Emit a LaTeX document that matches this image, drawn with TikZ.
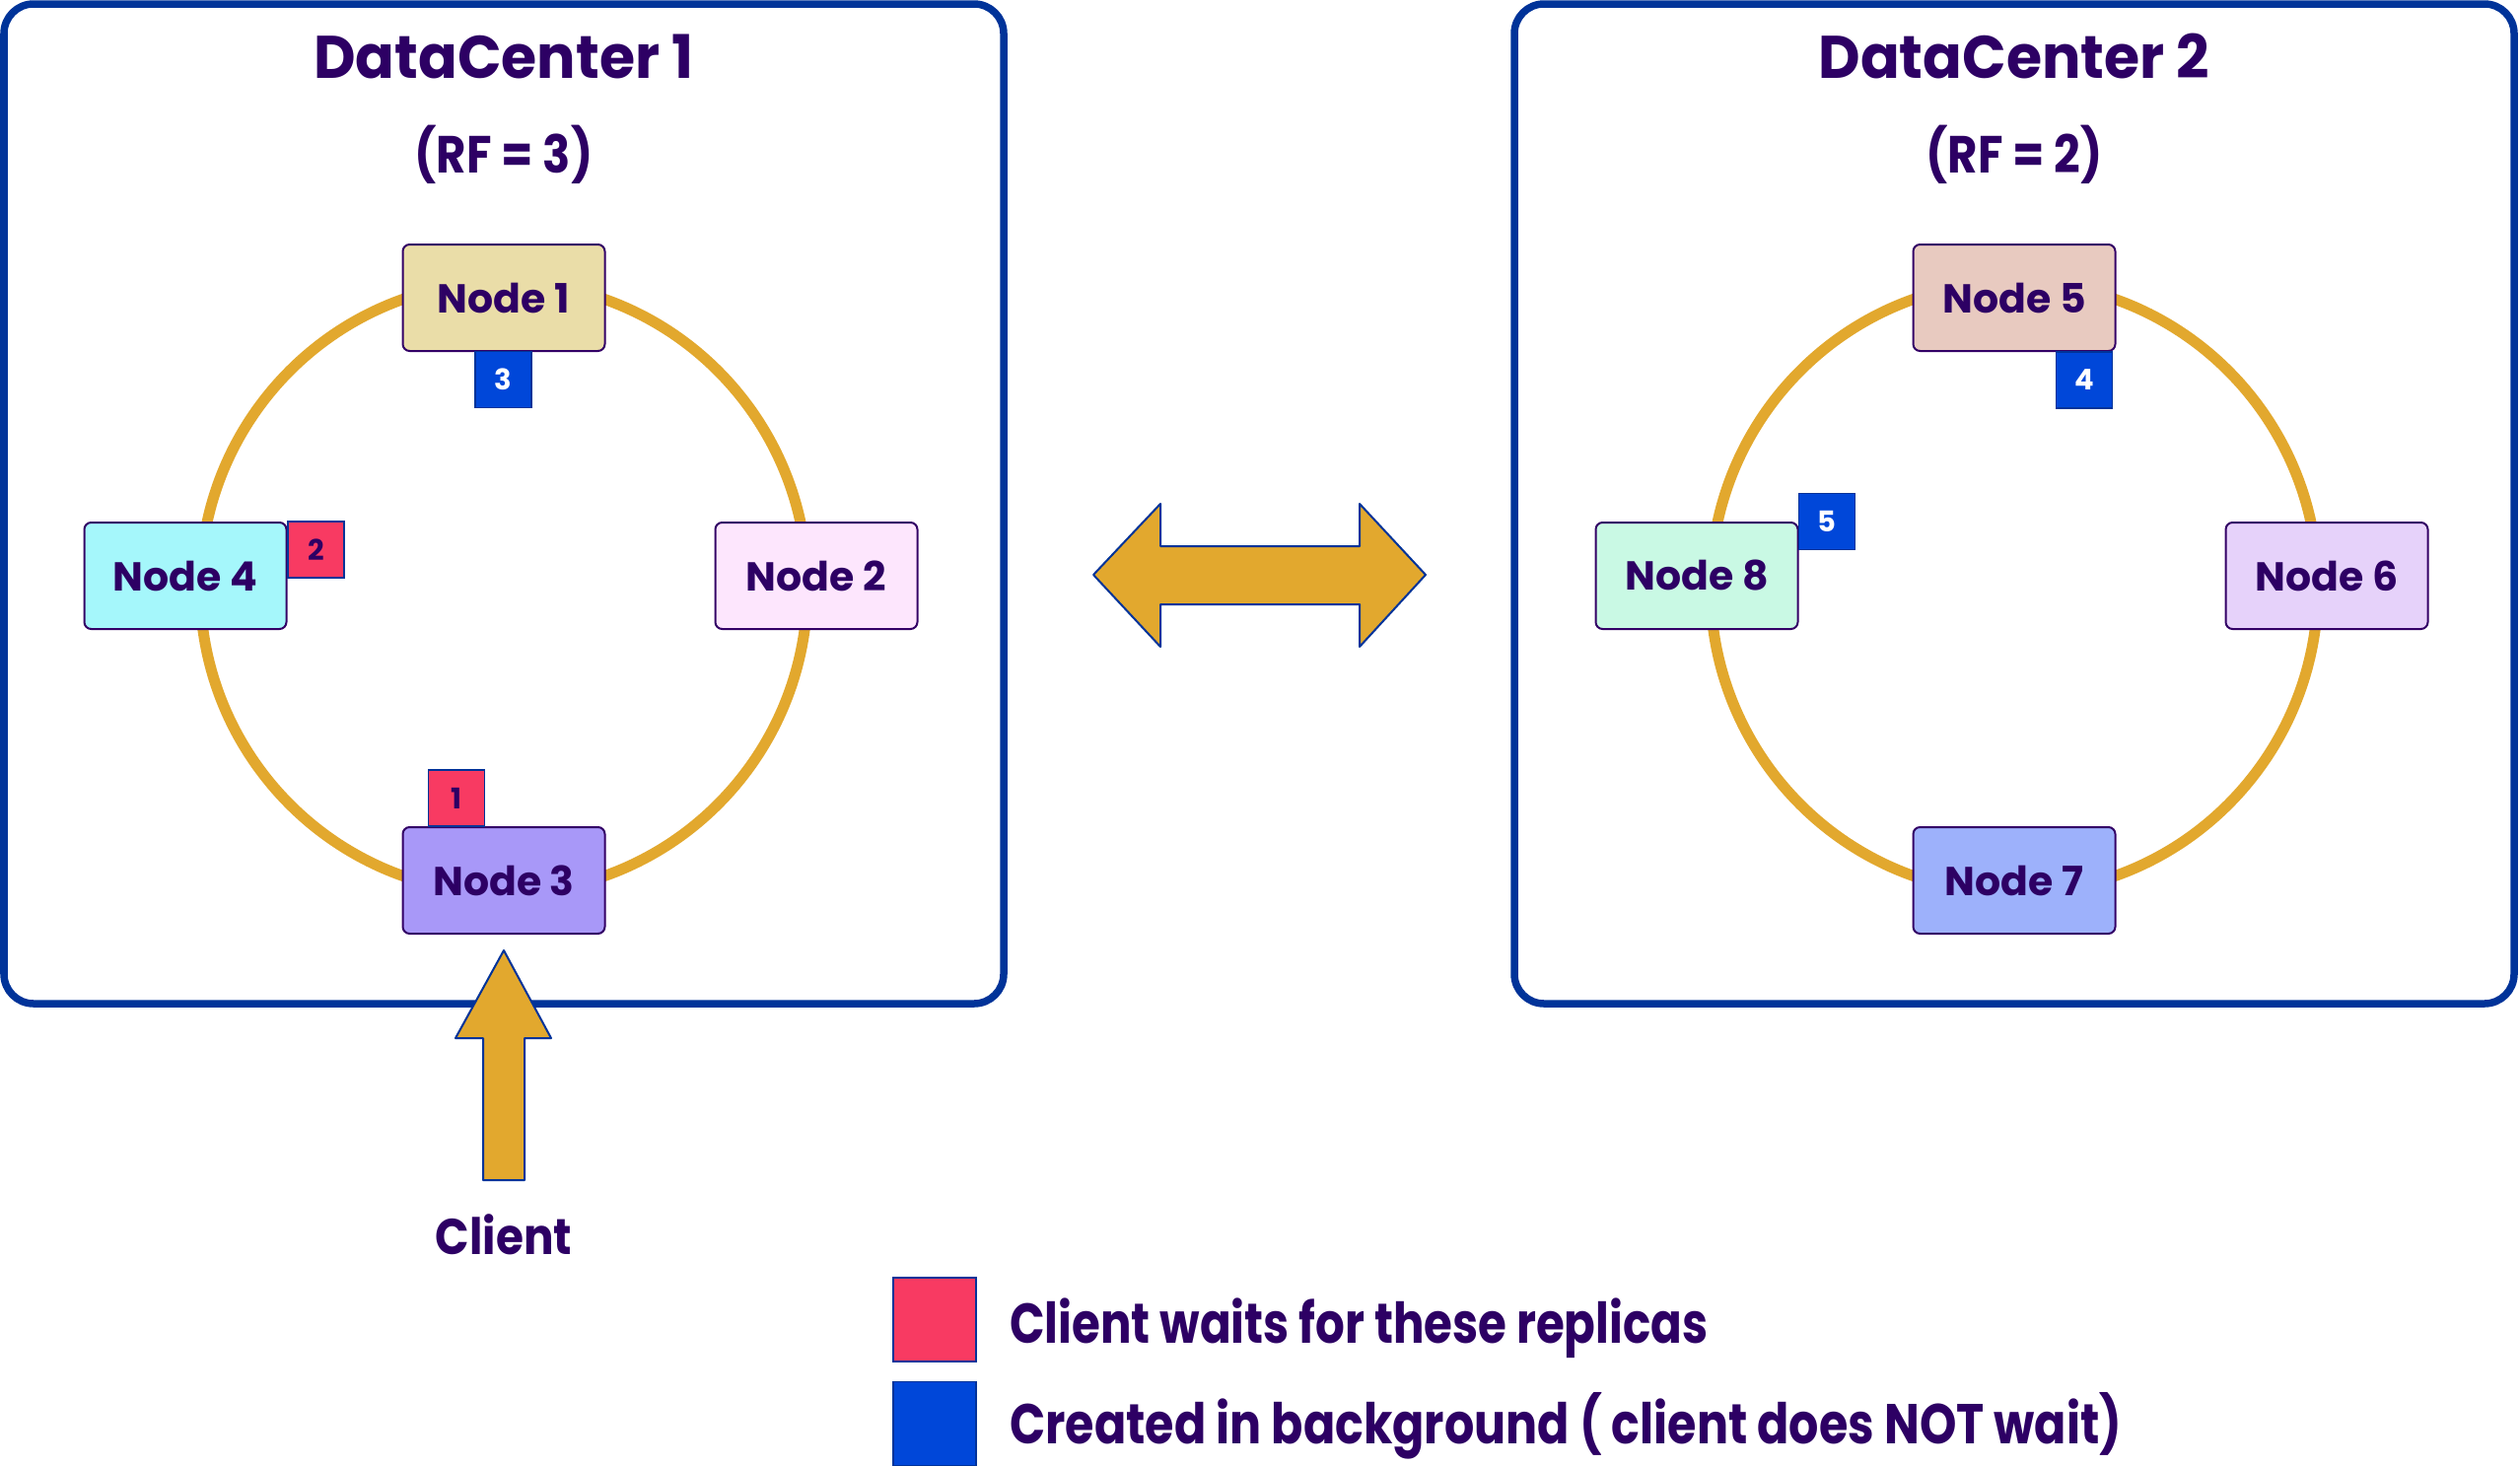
\documentclass[tikz,border=0pt]{standalone}
\usepackage{fontspec}
\setmainfont{Poppins}
\definecolor{txt}{RGB}{45,0,100}
\definecolor{dcblue}{RGB}{0,51,153}
\definecolor{ring}{RGB}{226,168,46}
\definecolor{nborder}{RGB}{51,0,102}
\definecolor{sqred}{RGB}{248,58,98}
\definecolor{sqblue}{RGB}{0,71,217}
\definecolor{cA}{RGB}{234,221,168}
\definecolor{cB}{RGB}{253,230,253}
\definecolor{cC}{RGB}{168,152,248}
\definecolor{cD}{RGB}{165,247,251}
\definecolor{cE}{RGB}{232,202,192}
\definecolor{cF}{RGB}{230,210,250}
\definecolor{cG}{RGB}{157,177,251}
\definecolor{cH}{RGB}{201,249,228}
\tikzset{
  dcbox/.style={draw=dcblue, line width=7.5pt, rounded corners=30pt},
  ringline/.style={draw=ring, line width=11pt},
  nodebox/.style={draw=nborder, line width=2pt, rounded corners=7pt, minimum width=205pt, minimum height=108pt, inner sep=0pt, text=txt, font=\fontsize{41}{48}\selectfont\bfseries},
  sqbox/.style={draw=dcblue, line width=1.5pt, minimum width=57pt, minimum height=57pt, inner sep=0pt, font=\fontsize{29}{34}\selectfont\bfseries},
  sqr/.style={sqbox, fill=sqred, text=txt},
  sqb/.style={sqbox, fill=sqblue, text=white},
  bigarrow/.style={draw=dcblue, line width=2pt, fill=ring, line join=round},
  titletext/.style={text=txt, font=\fontsize{61}{70}\selectfont\bfseries, inner sep=0pt},
  rftext/.style={text=txt, font=\fontsize{53}{62}\selectfont\bfseries, inner sep=0pt},
  legtext/.style={text=txt, font=\fontsize{57}{66}\selectfont\bfseries, inner sep=0pt, anchor=base west},
  legsq/.style={draw=dcblue, line width=1.5pt, minimum width=84pt, minimum height=85pt, inner sep=0pt}
}
\begin{document}
\begin{tikzpicture}[x=1pt,y=-1pt]
\useasboundingbox[fill=white] (0,0) rectangle (2556,1486);
% data center boxes
\draw[dcbox] (4,4) rectangle (1018,1018);
\draw[dcbox] (1536,4) rectangle (2550,1018);
% rings
\draw[ringline] (511,596) ellipse [x radius=308, y radius=310];
\draw[ringline] (2043,596) ellipse [x radius=308, y radius=310];
% titles
\node[titletext] (t1) at (511,57) {\scalebox{0.96}[1]{DataCenter 1}};
\node[rftext] (rf1) at (511,157) {\scalebox{0.88}[1]{(RF = 3)}};
\node[titletext] (t2) at (2043,57) {\scalebox{0.96}[1]{DataCenter 2}};
\node[rftext] (rf2) at (2043,157) {\scalebox{0.88}[1]{(RF = 2)}};
% DC1 nodes
\node[nodebox, fill=cA] (n1) at (511,302) {Node 1};
\node[nodebox, fill=cB] (n2) at (828,584) {Node 2};
\node[nodebox, fill=cC] (n3) at (511,893) {Node 3};
\node[nodebox, fill=cD] (n4) at (188,584) {Node 4};
% DC2 nodes
\node[nodebox, fill=cE] (n5) at (2043,302) {Node 5};
\node[nodebox, fill=cF] (n6) at (2360,584) {Node 6};
\node[nodebox, fill=cG] (n7) at (2043,893) {Node 7};
\node[nodebox, fill=cH] (n8) at (1721,584) {Node 8};
% replica squares
\node[sqb] (s3) at (510.5,385) {3};
\node[sqr] (s2) at (320.5,557.5) {2};
\node[sqr] (s1) at (463,809.5) {1};
\node[sqb] (s4) at (2114,385.5) {4};
\node[sqb] (s5) at (1853,529) {5};
% double arrow
\draw[bigarrow] (1109,583) -- (1177,511) -- (1177,554) -- (1379,554) -- (1379,511) -- (1446,583) -- (1379,656) -- (1379,613) -- (1177,613) -- (1177,656) -- cycle;
% client arrow
\draw[bigarrow] (511,964) -- (559,1053) -- (532,1053) -- (532,1197) -- (490,1197) -- (490,1053) -- (462,1053) -- cycle;
\node[text=txt, font=\fontsize{51}{60}\selectfont\bfseries, inner sep=0pt] (client) at (511,1252) {\scalebox{0.89}[1]{Client}};
% legend
\node[legsq, fill=sqred] (lr) at (948,1338.5) {};
\node[legsq, fill=sqblue] (lb) at (948,1444) {};
\node[legtext] (l1) at (1024,1362) {\scalebox{0.82}[1]{Client waits for these replicas}};
\node[legtext] (l2) at (1024,1464) {\scalebox{0.835}[1]{Created in background ( client does NOT wait)}};
\end{tikzpicture}
\end{document}
